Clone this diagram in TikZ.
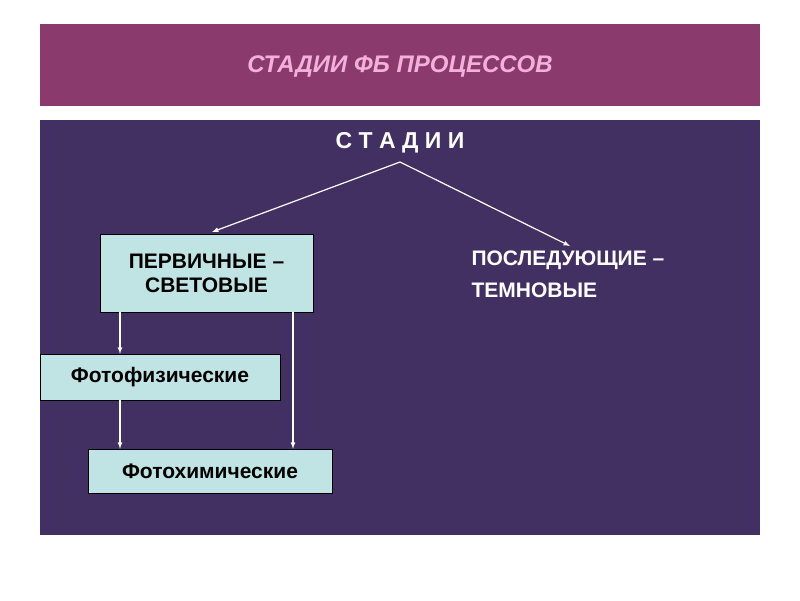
\documentclass[tikz,border=0pt]{standalone}
\usepackage{fontspec}
\setmainfont{Liberation Sans}
\begin{document}
\begin{tikzpicture}[x=1pt,y=-1pt,
  boxn/.style={draw=black,fill=cyan!8!teal!25!white,fill=boxc,text=black,font=\bfseries\fontsize{21}{24}\selectfont,inner sep=0pt},
  conn/.style={draw=white,line width=1.2pt,-latex}]
\definecolor{boxc}{HTML}{C0E4E4}
\definecolor{titlec}{HTML}{8B3A6E}
\definecolor{panelc}{HTML}{423062}
\definecolor{pinkc}{HTML}{F4B0DC}
\useasboundingbox[fill=white] (0,0) rectangle (800,600);
\fill[titlec] (40,24) rectangle (760,106);
\node (title) at (400,67) {\bfseries\itshape\fontsize{24}{28}\selectfont\color{pinkc}СТАДИИ ФБ ПРОЦЕССОВ};
\fill[panelc] (40,120) rectangle (760,535);
\node[text=white,font=\bfseries\fontsize{23}{26}\selectfont] (st) at (400,143) {С Т А Д И И};
\coordinate (top) at (400,162);
\node[boxn,minimum width=213pt,minimum height=78pt,align=center] (p) at (206.5,273) {ПЕРВИЧНЫЕ –\\СВЕТОВЫЕ};
\node[text=white,font=\bfseries\fontsize{21}{32}\selectfont,align=left,anchor=north west] (d) at (468,247) {ПОСЛЕДУЮЩИЕ –\\ТЕМНОВЫЕ};
\node[boxn,minimum width=240pt,minimum height=46pt] (f1) at (160,377) {Фотофизические};
\node[boxn,minimum width=244pt,minimum height=44pt] (f2) at (210,471) {Фотохимические};
\draw[conn] (top) -- (212,232);
\draw[conn] (top) -- (570,246);
\draw[conn] (p.south -| 120,0) -- (f1.north -| 120,0);
\draw[conn] (f1.south -| 120,0) -- (f2.north -| 120,0);
\draw[conn] (p.south -| 293,0) -- (f2.north -| 293,0);
\end{tikzpicture}
\end{document}
